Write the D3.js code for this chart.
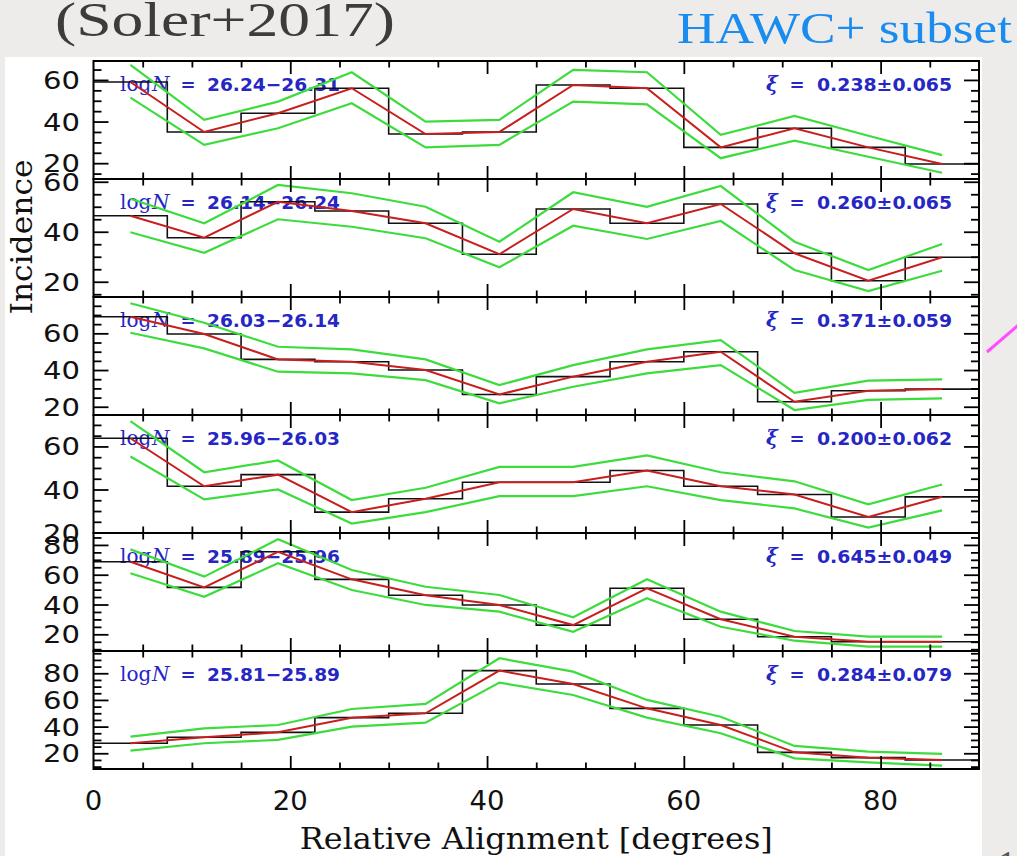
<!DOCTYPE html>
<html>
<head>
<meta charset="utf-8">
<script src="https://cdn.jsdelivr.net/npm/d3@7"></script>
<style>
  body { margin: 0; background: #eeecea; }
  svg { display: block; }
</style>
</head>
<body>
<svg id="chart" width="1017" height="856"></svg>
<script>
// bins of relative alignment (degrees)
const binEdges = [0, 7.5, 15, 22.5, 30, 37.5, 45, 52.5, 60, 67.5, 75, 82.5, 90];
const binCenters = [3.75, 11.25, 18.75, 26.25, 33.75, 41.25, 48.75, 56.25, 63.75, 71.25, 78.75, 86.25];
const xTickLabels = [0, 20, 40, 60, 80];

// one entry per panel, top to bottom
const rangeLabels = ["26.24\u221226.31", "26.14\u221226.24", "26.03\u221226.14", "25.96\u221226.03", "25.89\u221225.96", "25.81\u221225.89"];
const xiLabels = ["0.238\u00b10.065", "0.260\u00b10.065", "0.371\u00b10.059", "0.200\u00b10.062", "0.645\u00b10.049", "0.284\u00b10.079"];
const yDomains = [[12.4, 69.1], [13.9, 61.1], [15.5, 79.8], [19.8, 74.6], [8.8, 88], [8.2, 96.7]];
const yTickLabels = [[20, 40, 60], [20, 40, 60], [20, 40, 60], [20, 40, 60], [20, 40, 60, 80], [20, 40, 60, 80]];

// incidence per bin (histogram + red line)
const counts = [
  [59, 35, 44, 56, 34, 35, 57.6, 56, 27.6, 36.8, 27.6, 19.6],
  [46.4, 37.6, 52, 48.3, 43.4, 31, 49.1, 43.4, 51.1, 31.4, 20.4, 29.8],
  [69, 59.6, 45.8, 44.5, 40, 26.7, 36.4, 44.5, 50, 22.7, 28.7, 29.6],
  [63.8, 41.5, 46.9, 29.5, 35.7, 43.4, 43.4, 48.8, 41.5, 37.7, 27.2, 36.6],
  [68.7, 51.5, 75.4, 56.9, 46.2, 39.7, 26.2, 50.9, 30.1, 18.4, 15, 15],
  [27.5, 32, 35.7, 46.7, 50, 82, 72, 53.7, 41.2, 20.7, 16.7, 15]
];
// green envelope, upper
const upper = [
  [67.2, 40.8, 49.6, 63.7, 40, 40.8, 64.8, 63.7, 33.6, 42.7, 33.2, 23.9],
  [53.2, 43.4, 58.7, 55.4, 50, 36, 55.8, 50, 58.3, 36, 24.7, 35.1],
  [76.4, 65.8, 52.7, 51.3, 45.8, 31.8, 42.7, 51.3, 56.3, 27.6, 34.2, 34.9],
  [71.8, 48, 53.5, 35.1, 40.8, 50.5, 50.5, 55.8, 48, 43.8, 33.1, 42.3],
  [77, 58.7, 83.8, 63.2, 51.9, 46.4, 31.4, 56.9, 35.2, 22.2, 18.4, 18.4],
  [32.5, 38.7, 41.2, 53.2, 57, 91.3, 81.2, 60, 47.4, 25.5, 21.2, 19.5]
];
// green envelope, lower
const lower = [
  [51.5, 28.8, 36.8, 48.8, 27.6, 28.8, 49.6, 48.3, 22.4, 30.8, 23.1, 15.4],
  [39.8, 31.6, 45, 42, 37.4, 25.8, 42.4, 37.1, 44.3, 24.7, 16.3, 24.4],
  [60.3, 51.8, 39.1, 38.2, 34.5, 21.9, 30.9, 38.2, 42.7, 18.2, 23.7, 24.6],
  [55.3, 35.4, 40, 24.2, 29.5, 36.9, 36.9, 41.5, 35.1, 31.2, 22.3, 30.3],
  [61, 45.2, 67.7, 49.7, 39.7, 35.2, 21.7, 44.2, 25.1, 15.7, 11.7, 11.7],
  [22, 27.5, 30, 40, 43, 73, 63.7, 46.7, 35, 16.2, 13.2, 10.7]
];

const blue = "#2626c4";
const svg = d3.select("#chart");

// slide furniture
svg.append("text")
  .attr("x", 55).attr("y", 36)
  .attr("font-family", "Liberation Serif").attr("font-size", 48)
  .attr("fill", "#3c3c3c")
  .attr("textLength", 340).attr("lengthAdjust", "spacingAndGlyphs")
  .text("(Soler+2017)");
svg.append("text")
  .attr("x", 677).attr("y", 43)
  .attr("font-family", "Liberation Serif").attr("font-size", 44)
  .attr("fill", "#1a8cf0")
  .attr("textLength", 335).attr("lengthAdjust", "spacingAndGlyphs")
  .text("HAWC+ subset");
svg.append("line")
  .attr("x1", 987).attr("y1", 352).attr("x2", 1030).attr("y2", 315)
  .attr("stroke", "#ff4dff").attr("stroke-width", 3);
svg.append("text")
  .attr("x", 998).attr("y", 876)
  .attr("font-family", "Liberation Serif").attr("font-size", 36)
  .attr("fill", "#555").text("1");

// white figure area
svg.append("rect")
  .attr("x", 5).attr("y", 57).attr("width", 977).attr("height", 856 - 57)
  .attr("fill", "#fff");

const x = d3.scaleLinear().domain([0, 90]).range([93.5, 979]);
const top0 = 61, panelH = 118;

const minorX = d3.range(5, 90, 5).filter(v => v % 20 !== 0);
const majorX = [20, 40, 60, 80];

function styleAxis(g) {
  g.select(".domain").remove();
  g.selectAll("line").attr("stroke", "#000").attr("stroke-width", 1.8);
}

counts.forEach((vals, p) => {
  const y0 = top0 + p * panelH, y1 = y0 + panelH;
  const y = d3.scaleLinear().domain(yDomains[p]).range([y1, y0]);
  const g = svg.append("g");

  // panel labels
  const ly = y0 + 29.5;
  g.append("text").attr("x", 120).attr("y", ly)
    .attr("font-family", "DejaVu Serif").attr("font-size", 20)
    .attr("fill", blue).text("log");
  g.append("text").attr("x", 152).attr("y", ly)
    .attr("font-family", "DejaVu Serif").attr("font-style", "italic").attr("font-size", 20)
    .attr("fill", blue).text("N");
  g.append("text").attr("x", 188).attr("y", ly).attr("text-anchor", "middle")
    .attr("font-family", "DejaVu Sans").attr("font-weight", "bold").attr("font-size", 18)
    .attr("fill", blue).text("=");
  g.append("text").attr("x", 207).attr("y", ly)
    .attr("font-family", "DejaVu Sans").attr("font-weight", "bold").attr("font-size", 18)
    .attr("textLength", 133).attr("lengthAdjust", "spacingAndGlyphs")
    .attr("fill", blue).text(rangeLabels[p]);

  g.append("text").attr("x", 766).attr("y", ly)
    .attr("font-family", "DejaVu Serif").attr("font-style", "italic").attr("font-weight", "bold").attr("font-size", 20)
    .attr("fill", blue).text("\u03be");
  g.append("text").attr("x", 797).attr("y", ly).attr("text-anchor", "middle")
    .attr("font-family", "DejaVu Sans").attr("font-weight", "bold").attr("font-size", 18)
    .attr("fill", blue).text("=");
  g.append("text").attr("x", 817).attr("y", ly)
    .attr("font-family", "DejaVu Sans").attr("font-weight", "bold").attr("font-size", 18)
    .attr("textLength", 135).attr("lengthAdjust", "spacingAndGlyphs")
    .attr("fill", blue).text(xiLabels[p]);

  // histogram steps
  const stepPts = vals.map((v, i) => [binEdges[i], v]).concat([[90, vals[vals.length - 1]]]);
  g.append("path")
    .attr("d", d3.line().curve(d3.curveStepAfter).x(d => x(d[0])).y(d => y(d[1]))(stepPts))
    .attr("fill", "none").attr("stroke", "#111").attr("stroke-width", 1.6);

  const line = d3.line().x((d, i) => x(binCenters[i])).y(d => y(d));
  [upper[p], lower[p]].forEach(arr => {
    g.append("path").attr("d", line(arr))
      .attr("fill", "none").attr("stroke", "#3ddc3d").attr("stroke-width", 2.2);
  });
  g.append("path").attr("d", line(vals))
    .attr("fill", "none").attr("stroke", "#c81e1e").attr("stroke-width", 2);

  // ticks, pointing inward on all four sides
  const [lo, hi] = yDomains[p];
  const yAll = d3.range(Math.ceil(lo / 5) * 5, hi, 5);
  const minorY = yAll.filter(v => v % 20 !== 0);
  const majorY = yAll.filter(v => v % 20 === 0);

  g.append("g").attr("transform", `translate(0,${y1})`)
    .call(d3.axisBottom(x).tickValues(minorX).tickSize(-6.5).tickFormat("")).call(styleAxis);
  g.append("g").attr("transform", `translate(0,${y1})`)
    .call(d3.axisBottom(x).tickValues(majorX).tickSize(-13).tickFormat("")).call(styleAxis);
  g.append("g").attr("transform", `translate(0,${y0})`)
    .call(d3.axisTop(x).tickValues(minorX).tickSize(-6.5).tickFormat("")).call(styleAxis);
  g.append("g").attr("transform", `translate(0,${y0})`)
    .call(d3.axisTop(x).tickValues(majorX).tickSize(-13).tickFormat("")).call(styleAxis);

  g.append("g").attr("transform", `translate(${x(0)},0)`)
    .call(d3.axisLeft(y).tickValues(minorY).tickSize(-8).tickFormat("")).call(styleAxis);
  g.append("g").attr("transform", `translate(${x(0)},0)`)
    .call(d3.axisLeft(y).tickValues(majorY).tickSize(-15).tickFormat("")).call(styleAxis);
  g.append("g").attr("transform", `translate(${x(90)},0)`)
    .call(d3.axisRight(y).tickValues(minorY).tickSize(-8).tickFormat("")).call(styleAxis);
  g.append("g").attr("transform", `translate(${x(90)},0)`)
    .call(d3.axisRight(y).tickValues(majorY).tickSize(-15).tickFormat("")).call(styleAxis);

  // frame
  g.append("rect")
    .attr("x", x(0)).attr("y", y0).attr("width", x(90) - x(0)).attr("height", panelH)
    .attr("fill", "none").attr("stroke", "#000").attr("stroke-width", 2);

  // y tick labels
  yTickLabels[p].forEach(v => {
    const s = String(v);
    g.append("text")
      .attr("x", 80).attr("y", y(v)).attr("dy", "0.36em")
      .attr("text-anchor", "end")
      .attr("font-family", "DejaVu Sans").attr("font-size", 25)
      .attr("textLength", 18.5 * s.length).attr("lengthAdjust", "spacingAndGlyphs")
      .attr("fill", "#111").text(s);
  });
});

// x tick labels under the last panel
xTickLabels.forEach(v => {
  const s = String(v);
  svg.append("text")
    .attr("x", x(v)).attr("y", 810)
    .attr("text-anchor", "middle")
    .attr("font-family", "DejaVu Sans").attr("font-size", 27)
    .attr("textLength", 17.5 * s.length).attr("lengthAdjust", "spacingAndGlyphs")
    .attr("fill", "#111").text(s);
});

// axis titles
svg.append("text")
  .attr("x", (x(0) + x(90)) / 2).attr("y", 849)
  .attr("text-anchor", "middle")
  .attr("font-family", "DejaVu Serif").attr("font-size", 29)
  .attr("textLength", 473).attr("lengthAdjust", "spacingAndGlyphs")
  .attr("fill", "#111").text("Relative Alignment [degrees]");
svg.append("text")
  .attr("transform", "translate(32,237) rotate(-90)")
  .attr("text-anchor", "middle")
  .attr("font-family", "DejaVu Serif").attr("font-size", 29)
  .attr("textLength", 155).attr("lengthAdjust", "spacingAndGlyphs")
  .attr("fill", "#111").text("Incidence");
</script>
</body>
</html>
